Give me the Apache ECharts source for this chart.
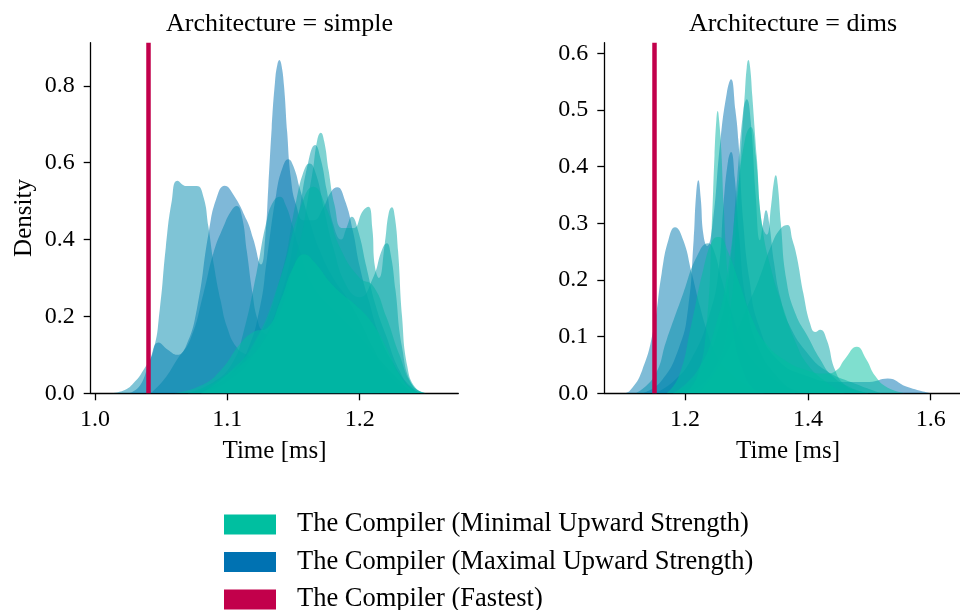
<!DOCTYPE html>
<html>
<head>
<meta charset="utf-8">
<script src="https://cdn.jsdelivr.net/npm/echarts@6/dist/echarts.min.js"></script>
<style>html,body{margin:0;padding:0;background:#fff}#c{width:960px;height:610px}</style>
</head>
<body>
<div id="c"></div>
<script>
// ---------- data ----------
const panelTitles = ['Architecture = simple', 'Architecture = dims'];
const seriesNames = ['The Compiler (Minimal Upward Strength)', 'The Compiler (Maximal Upward Strength)', 'The Compiler (Fastest)'];

const simpleXTicks = [1.0, 1.1, 1.2];
const simpleYTicks = [0, 0.2, 0.4, 0.6, 0.8];
const dimsXTicks = [1.2, 1.4, 1.6];
const dimsYTicks = [0, 0.1, 0.2, 0.3, 0.4, 0.5, 0.6];

const fastestSimple = 1.0418;
const fastestDims = 1.1536;

// KDE curves, panel "simple" (hue position: 0 = maximal, 1 = minimal)
const simpleHue = [0, 0.1, 0.2, 0.3, 0.4, 0.5, 0.6, 0.7, 0.85, 1.0];
const simpleC1 = [[1.026,0],[1.034,0.02],[1.041,0.08],[1.048,0.132],[1.055,0.113],[1.062,0.1],[1.069,0.125],[1.077,0.22],[1.086,0.42],[1.092,0.51],[1.098,0.54],[1.104,0.52],[1.1147,0.45],[1.1197,0.4],[1.1255,0.335],[1.1285,0.4],[1.131,0.54],[1.1335,0.69],[1.136,0.81],[1.1378,0.855],[1.1393,0.867],[1.1408,0.855],[1.1428,0.8],[1.1452,0.68],[1.148,0.56],[1.152,0.49],[1.158,0.45],[1.165,0.45],[1.172,0.48],[1.1785,0.525],[1.183,0.536],[1.189,0.5],[1.195,0.42],[1.2,0.33],[1.207,0.24],[1.215,0.15],[1.225,0.08],[1.235,0.03],[1.245,0]];
const simpleC2 = [[1.07,0],[1.09,0.02],[1.105,0.06],[1.115,0.11],[1.1247,0.225],[1.1298,0.347],[1.137,0.52],[1.142,0.59],[1.146,0.609],[1.15,0.59],[1.155,0.53],[1.162,0.45],[1.17,0.37],[1.18,0.3],[1.19,0.25],[1.2,0.19],[1.21,0.12],[1.22,0.06],[1.235,0.01],[1.245,0]];
const simpleC3 = [[1.042,0],[1.052,0.035],[1.062,0.088],[1.072,0.14],[1.082,0.26],[1.0894,0.364],[1.097,0.433],[1.103,0.475],[1.1071,0.487],[1.111,0.46],[1.1147,0.37],[1.119,0.26],[1.1225,0.195],[1.127,0.16],[1.135,0.15],[1.145,0.14],[1.16,0.11],[1.18,0.06],[1.2,0.02],[1.215,0]];
const simpleC4 = [[1.012,0],[1.022,0.008],[1.029,0.026],[1.0365,0.06],[1.044,0.11],[1.049,0.22],[1.0535,0.38],[1.058,0.5],[1.0622,0.553],[1.0693,0.539],[1.0769,0.539],[1.0819,0.511],[1.0857,0.433],[1.09,0.33],[1.095,0.24],[1.1,0.17],[1.107,0.12],[1.115,0.1],[1.13,0.08],[1.15,0.06],[1.17,0.04],[1.19,0.02],[1.21,0]];
const simpleC5 = [[1.07,0],[1.09,0.03],[1.104,0.08],[1.112,0.156],[1.122,0.312],[1.1298,0.45],[1.135,0.5],[1.1398,0.511],[1.144,0.49],[1.149,0.44],[1.155,0.37],[1.165,0.28],[1.18,0.22],[1.2,0.15],[1.22,0.07],[1.24,0]];
const simpleC6 = [[1.08,0],[1.1,0.03],[1.12,0.1],[1.14,0.25],[1.153,0.45],[1.161,0.6],[1.1663,0.646],[1.1705,0.61],[1.175,0.53],[1.18,0.44],[1.186,0.4],[1.19,0.43],[1.194,0.459],[1.199,0.42],[1.205,0.33],[1.212,0.23],[1.22,0.15],[1.23,0.06],[1.24,0.01],[1.25,0]];
const simpleC7 = [[1.08,0],[1.1,0.04],[1.12,0.12],[1.14,0.3],[1.152,0.5],[1.158,0.58],[1.162,0.598],[1.167,0.57],[1.173,0.48],[1.18,0.38],[1.19,0.28],[1.2,0.25],[1.21,0.3],[1.217,0.375],[1.2205,0.39],[1.2235,0.36],[1.227,0.27],[1.232,0.12],[1.24,0.02],[1.25,0]];
const simpleC8 = [[1.07,0],[1.1,0.05],[1.13,0.15],[1.15,0.33],[1.1638,0.563],[1.168,0.66],[1.1706,0.678],[1.1732,0.655],[1.1765,0.58],[1.181,0.49],[1.187,0.43],[1.195,0.43],[1.2025,0.475],[1.2066,0.485],[1.2095,0.43],[1.2115,0.33],[1.2145,0.3],[1.219,0.39],[1.222,0.47],[1.2243,0.484],[1.2265,0.46],[1.229,0.37],[1.232,0.2],[1.236,0.07],[1.242,0.015],[1.25,0]];
const simpleC9 = [[1.08,0],[1.1,0.05],[1.12,0.13],[1.14,0.3],[1.155,0.48],[1.165,0.537],[1.175,0.48],[1.185,0.38],[1.2,0.3],[1.21,0.28],[1.22,0.2],[1.23,0.1],[1.24,0.02],[1.25,0]];
const simpleC10 = [[1.06,0],[1.08,0.02],[1.095,0.06],[1.11,0.13],[1.12,0.16],[1.13,0.17],[1.14,0.24],[1.15,0.33],[1.158,0.362],[1.166,0.34],[1.18,0.28],[1.2,0.22],[1.21,0.18],[1.22,0.12],[1.23,0.05],[1.24,0.01],[1.25,0]];

// KDE curves, panel "dims"
const dimsHue = [0, 0.1, 0.2, 0.35, 0.55, 0.65, 0.75, 0.85, 0.9, 1.0];
const dimsC1 = [[1.13,0],[1.16,0.02],[1.19,0.08],[1.205,0.15],[1.214,0.27],[1.218,0.35],[1.2217,0.376],[1.2255,0.345],[1.23,0.28],[1.236,0.26],[1.245,0.3],[1.257,0.44],[1.268,0.53],[1.2749,0.554],[1.282,0.5],[1.2868,0.447],[1.295,0.3],[1.305,0.2],[1.32,0.12],[1.35,0.06],[1.4,0.03],[1.45,0.02],[1.5,0.02],[1.53,0.026],[1.56,0.012],[1.6,0]];
const dimsC2 = [[1.1,0],[1.1104,0.005],[1.13,0.04],[1.1484,0.112],[1.162,0.212],[1.1728,0.27],[1.1837,0.293],[1.1972,0.27],[1.211,0.212],[1.2244,0.153],[1.2353,0.112],[1.25,0.07],[1.27,0.04],[1.3,0.015],[1.33,0]];
const dimsC3 = [[1.15,0],[1.18,0.02],[1.21,0.06],[1.24,0.14],[1.255,0.22],[1.2624,0.329],[1.27,0.41],[1.2749,0.426],[1.281,0.38],[1.288,0.28],[1.3,0.16],[1.32,0.08],[1.35,0.03],[1.38,0]];
const dimsC4 = [[1.12,0],[1.15,0.03],[1.17,0.094],[1.197,0.176],[1.219,0.241],[1.238,0.265],[1.246,0.255],[1.26,0.2],[1.273,0.153],[1.29,0.1],[1.31,0.06],[1.34,0.03],[1.37,0.01],[1.4,0]];
const dimsC5 = [[1.18,0],[1.22,0.03],[1.25,0.1],[1.27,0.2],[1.285,0.38],[1.295,0.5],[1.3005,0.519],[1.307,0.48],[1.315,0.35],[1.322,0.27],[1.327,0.3],[1.3319,0.323],[1.337,0.3],[1.345,0.23],[1.355,0.17],[1.37,0.12],[1.4,0.07],[1.43,0.04],[1.47,0.02],[1.52,0]];
const dimsC6 = [[1.22,0],[1.25,0.04],[1.28,0.1],[1.3,0.15],[1.32,0.2],[1.34,0.26],[1.355,0.29],[1.3666,0.297],[1.375,0.27],[1.382,0.241],[1.3927,0.176],[1.4036,0.123],[1.412,0.108],[1.42,0.112],[1.4308,0.094],[1.4443,0.041],[1.46,0.015],[1.48,0.005],[1.5,0]];
const dimsC7 = [[1.2,0],[1.24,0.03],[1.27,0.12],[1.285,0.33],[1.2923,0.447],[1.2977,0.535],[1.3005,0.575],[1.3031,0.588],[1.306,0.575],[1.3095,0.525],[1.3168,0.417],[1.325,0.3],[1.333,0.28],[1.34,0.33],[1.3445,0.372],[1.3477,0.385],[1.351,0.368],[1.356,0.3],[1.365,0.2],[1.38,0.14],[1.4,0.1],[1.42,0.06],[1.44,0.03],[1.47,0.01],[1.5,0]];
const dimsC8 = [[1.2,0],[1.22,0.03],[1.235,0.12],[1.2435,0.294],[1.248,0.42],[1.251,0.482],[1.2532,0.498],[1.2555,0.482],[1.259,0.43],[1.263,0.33],[1.27,0.2],[1.28,0.1],[1.295,0.04],[1.31,0.01],[1.33,0]];
const dimsC9 = [[1.18,0],[1.22,0.04],[1.25,0.12],[1.27,0.22],[1.285,0.35],[1.298,0.45],[1.307,0.47],[1.315,0.42],[1.325,0.3],[1.34,0.22],[1.36,0.15],[1.38,0.09],[1.4,0.05],[1.43,0.02],[1.46,0]];
const dimsC10 = [[1.17,0],[1.19,0.03],[1.21,0.12],[1.23,0.22],[1.245,0.27],[1.255,0.276],[1.27,0.25],[1.29,0.19],[1.31,0.13],[1.33,0.09],[1.36,0.06],[1.4,0.04],[1.43,0.035],[1.447,0.041],[1.46,0.06],[1.4797,0.082],[1.495,0.06],[1.51,0.03],[1.53,0.01],[1.56,0]];

const simpleCurves = [simpleC1, simpleC2, simpleC3, simpleC4, simpleC5, simpleC6, simpleC7, simpleC8, simpleC9, simpleC10];
const dimsCurves = [dimsC1, dimsC2, dimsC3, dimsC4, dimsC5, dimsC6, dimsC7, dimsC8, dimsC9, dimsC10];

// ---------- style ----------
const BLUE = [0, 114, 178];
const GREEN = [0, 191, 160];
const RED = '#c2004b';
const FONT = '"Liberation Serif", "DejaVu Serif", serif';
function mix(t) {
  const c = BLUE.map((b, i) => Math.round(b + (GREEN[i] - b) * t));
  return 'rgb(' + c.join(',') + ')';
}
function curveSeries(data, t, idx) {
  return {
    type: 'line',
    name: t >= 0.5 ? seriesNames[0] : seriesNames[1],
    xAxisIndex: idx, yAxisIndex: idx,
    data: data,
    smooth: 0.5,
    symbol: 'none',
    showSymbol: false,
    silent: true,
    lineStyle: { width: 0, opacity: 0 },
    itemStyle: { color: mix(t) },
    areaStyle: { color: mix(t), opacity: 0.5 },
    z: 2
  };
}
function fastestSeries(x, idx) {
  return {
    type: 'line', name: seriesNames[2], xAxisIndex: idx, yAxisIndex: idx,
    data: [], symbol: 'none', silent: true,
    itemStyle: { color: RED },
    z: 5,
    markLine: {
      silent: true, symbol: ['none', 'none'], label: { show: false },
      lineStyle: { color: RED, width: 4.5, type: 'solid', opacity: 1 },
      emphasis: { disabled: true },
      data: [{ xAxis: x }]
    }
  };
}
const axisCommon = {
  axisLine: { show: true, onZero: false, lineStyle: { color: '#000', width: 1.3 } },
  splitLine: { show: false },
  nameTextStyle: { fontFamily: FONT, fontSize: 25, color: '#000' }
};
function xAxis(idx, min, max, ticks) {
  return Object.assign({}, axisCommon, {
    type: 'value', gridIndex: idx, min: min, max: max,
    name: 'Time [ms]', nameLocation: 'middle', nameGap: 46,
    axisTick: { show: true, length: 7, lineStyle: { color: '#000', width: 1.3 }, customValues: ticks },
    axisLabel: { fontFamily: FONT, fontSize: 24, color: '#000', margin: 14, customValues: ticks, formatter: v => v.toFixed(1) }
  });
}
function yAxis(idx, min, max, ticks, name) {
  return Object.assign({}, axisCommon, {
    type: 'value', gridIndex: idx, min: min, max: max,
    name: name, nameLocation: 'middle', nameGap: 54, nameRotate: 90,
    axisTick: { show: true, length: 7, lineStyle: { color: '#000', width: 1.3 }, customValues: ticks },
    axisLabel: { fontFamily: FONT, fontSize: 24, color: '#000', margin: 16, customValues: ticks, formatter: v => v.toFixed(1) }
  });
}

const series = [];
simpleCurves.forEach((c, i) => series.push(curveSeries(c, simpleHue[i], 0)));
dimsCurves.forEach((c, i) => series.push(curveSeries(c, dimsHue[i], 1)));
series.push(fastestSeries(fastestSimple, 0));
series.push(fastestSeries(fastestDims, 1));

const chart = echarts.init(document.getElementById('c'), null, { renderer: 'canvas' });
chart.setOption({
  animation: false,
  backgroundColor: '#fff',
  textStyle: { fontFamily: FONT },
  title: [
    { text: panelTitles[0], left: 274.5, top: 6, textAlign: 'center', textStyle: { fontFamily: FONT, fontSize: 26, fontWeight: 'normal', color: '#000' } },
    { text: panelTitles[1], left: 788, top: 6, textAlign: 'center', textStyle: { fontFamily: FONT, fontSize: 26, fontWeight: 'normal', color: '#000' } }
  ],
  grid: [
    { left: 90.7, top: 42.7, width: 367.6, height: 350.6, containLabel: false, outerBoundsMode: 'none' },
    { left: 604.3, top: 42.7, width: 367.6, height: 350.6, containLabel: false, outerBoundsMode: 'none' }
  ],
  xAxis: [xAxis(0, 0.99675, 1.2745, simpleXTicks), xAxis(1, 1.0686, 1.667, dimsXTicks)],
  yAxis: [yAxis(0, 0, 0.912, simpleYTicks, 'Density'), yAxis(1, 0, 0.6187, dimsYTicks, '')],
  legend: {
    orient: 'vertical', left: 224, top: 511, height: 140, padding: 0,
    itemWidth: 52, itemHeight: 20, itemGap: 10.5,
    selectedMode: false,
    textStyle: { fontFamily: FONT, fontSize: 26.5, color: '#000', padding: [0, 0, 0, 16] },
    data: [
      { name: seriesNames[0], icon: 'rect', itemStyle: { color: mix(1), opacity: 1, borderWidth: 0 } },
      { name: seriesNames[1], icon: 'rect', itemStyle: { color: mix(0), opacity: 1, borderWidth: 0 } },
      { name: seriesNames[2], icon: 'rect', itemStyle: { color: RED, opacity: 1, borderWidth: 0 } }
    ]
  },
  series: series
});
</script>
</body>
</html>
